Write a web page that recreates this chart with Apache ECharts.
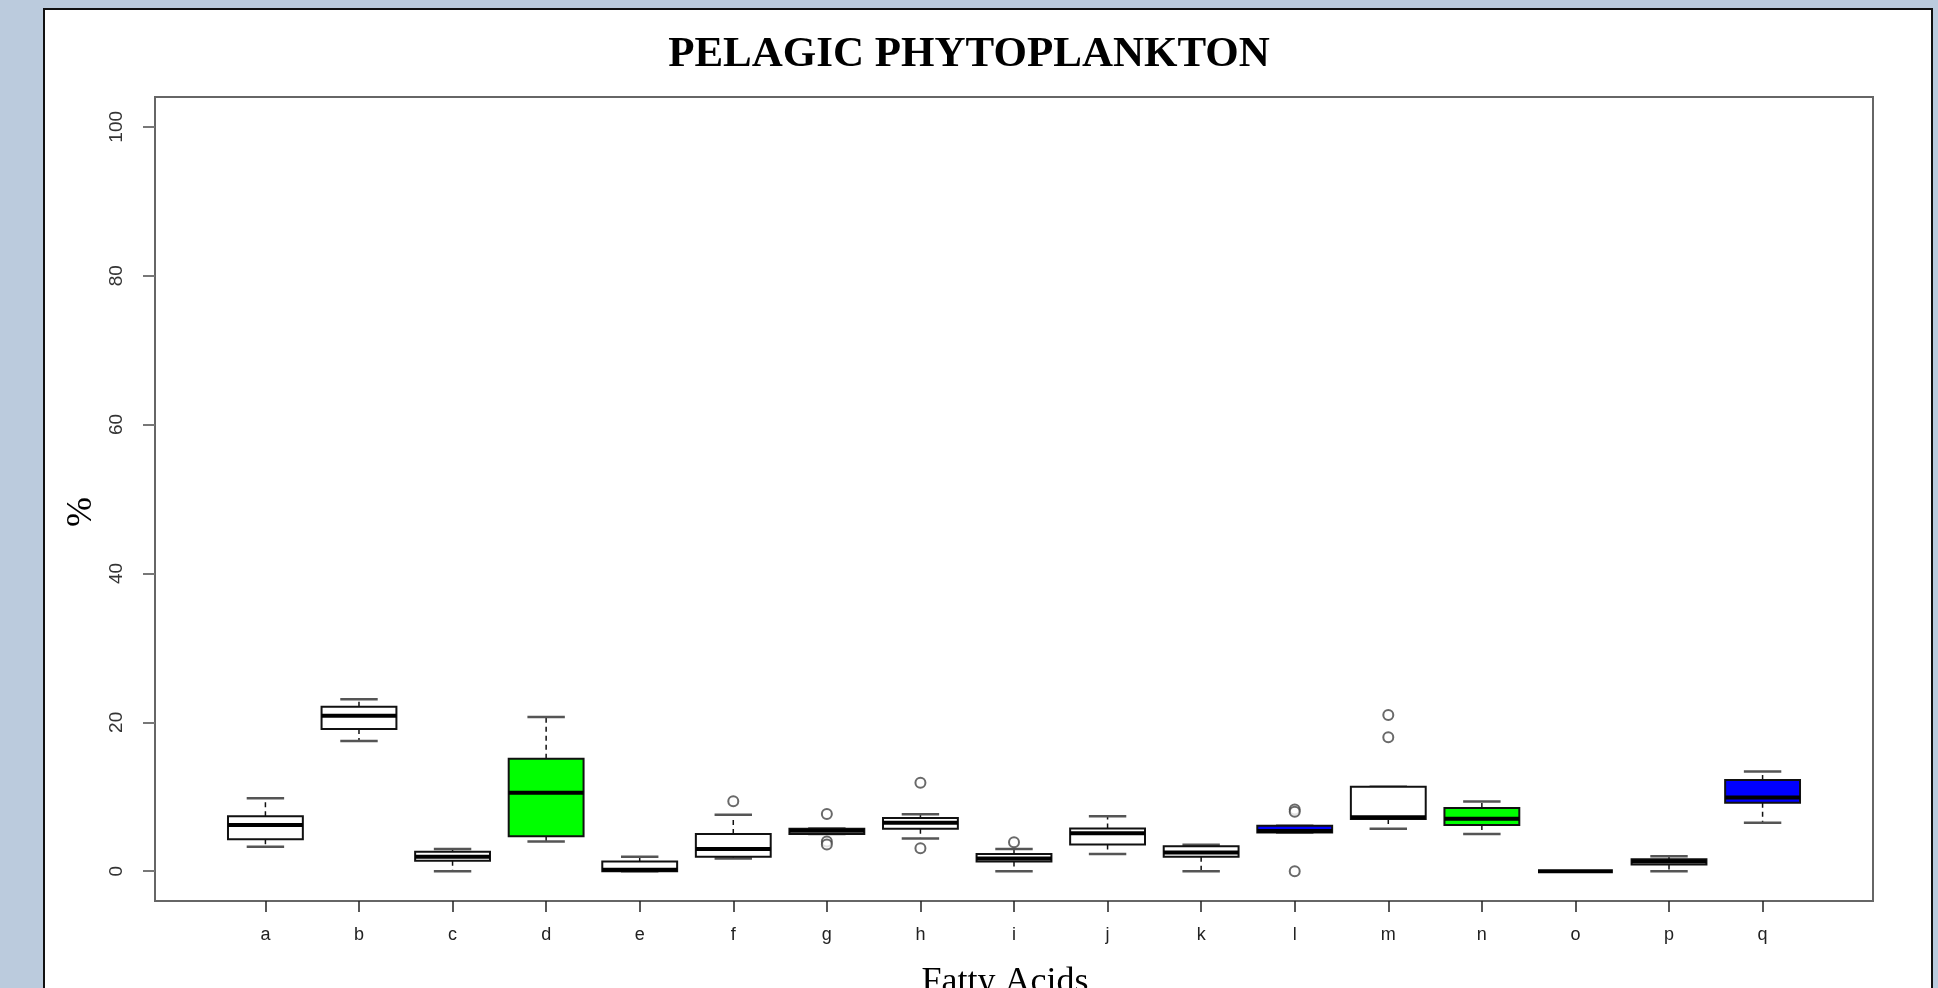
<!DOCTYPE html>
<html>
<head>
<meta charset="utf-8">
<title>Pelagic phytoplankton</title>
<script src="https://cdn.jsdelivr.net/npm/echarts@6/dist/echarts.min.js"></script>
<style>
    body {
        margin: 0;
        background-color: #bbcbdd;
        overflow: hidden;
    }
    .panel {
        position: absolute;
        left: 43px;
        top: 8px;
        width: 1890px;
        height: 1100px;
        box-sizing: border-box;
        border: 2px solid #111;
        background-color: white;
    }
    #boxChart {
        position: absolute;
        left: 0;
        top: 0;
        width: 1938px;
        height: 988px;
    }
</style>
</head>
<body>
<div class="panel"></div>
<div id="boxChart"></div>
<script>
// fatty acid labels
var categories = ['a', 'b', 'c', 'd', 'e', 'f', 'g', 'h', 'i', 'j', 'k', 'l', 'm', 'n', 'o', 'p', 'q'];
// box stats (%)
var whiskerLow  = [3.3, 17.5, 0.0, 4.0, 0.0, 1.7, 5.0, 4.4, 0.0, 2.3, 0.0, 5.2, 5.7, 5.0, 0.0, 0.0, 6.5];
var q1          = [4.3, 19.1, 1.4, 4.7, 0.0, 1.95, 5.0, 5.7, 1.3, 3.6, 1.95, 5.2, 7.0, 6.2, 0.0, 0.9, 9.2];
var median      = [6.2, 20.9, 1.95, 10.55, 0.2, 3.0, 5.45, 6.5, 1.7, 5.1, 2.5, 5.4, 7.25, 7.05, 0.0, 1.3, 9.9];
var q3          = [7.4, 22.1, 2.6, 15.1, 1.3, 5.0, 5.7, 7.15, 2.3, 5.75, 3.35, 6.1, 11.35, 8.5, 0.0, 1.6, 12.25];
var whiskerHigh = [9.8, 23.1, 3.0, 20.7, 1.95, 7.6, 5.75, 7.65, 3.0, 7.4, 3.55, 6.1, 11.35, 9.35, 0.0, 2.0, 13.4];
// outliers: category letter and value
var outlierCat = ['f', 'g', 'g', 'g', 'h', 'h', 'i', 'l', 'l', 'l', 'm', 'm'];
var outlierVal = [9.4, 7.7, 4.0, 3.6, 11.9, 3.1, 3.9, 8.3, 8.0, 0.0, 21.0, 18.0];
// y axis ticks
var yTicks = [0, 20, 40, 60, 80, 100];

// box fill colours (style, kept apart from the data)
var boxFill = ['#fff', '#fff', '#fff', '#00ff00', '#fff', '#fff', '#fff', '#fff', '#fff',
    '#fff', '#fff', '#0000ff', '#fff', '#00ff00', '#fff', '#fff', '#0000ff'];

var boxData = categories.map(function (c, i) {
    return [i + 1, whiskerLow[i], q1[i], median[i], q3[i], whiskerHigh[i]];
});
var outlierData = outlierCat.map(function (c, i) {
    return [categories.indexOf(c) + 1, outlierVal[i]];
});
var xTicks = categories.map(function (c, i) { return i + 1; });

function renderBox(params, api) {
    var x = api.value(0);
    var half = api.size([0.8, 0])[0] / 2;
    var capHalf = half / 2;
    var lo = api.coord([x, api.value(1)]);
    var bq1 = api.coord([x, api.value(2)]);
    var med = api.coord([x, api.value(3)]);
    var bq3 = api.coord([x, api.value(4)]);
    var hi = api.coord([x, api.value(5)]);
    var cx = med[0];
    var dash = { stroke: '#111', lineWidth: 1.5, lineDash: [5, 4] };
    var cap = { stroke: '#555', lineWidth: 2.5 };
    var children = [];
    if (hi[1] < bq3[1] - 1) {
        children.push({ type: 'line', shape: { x1: cx, y1: bq3[1], x2: cx, y2: hi[1] }, style: dash });
    }
    if (lo[1] > bq1[1] + 1) {
        children.push({ type: 'line', shape: { x1: cx, y1: bq1[1], x2: cx, y2: lo[1] }, style: dash });
    }
    children.push({ type: 'line', shape: { x1: cx - capHalf, y1: hi[1], x2: cx + capHalf, y2: hi[1] }, style: cap });
    children.push({ type: 'line', shape: { x1: cx - capHalf, y1: lo[1], x2: cx + capHalf, y2: lo[1] }, style: cap });
    if (bq1[1] - bq3[1] > 0.5) {
        children.push({
            type: 'rect',
            shape: { x: cx - half, y: bq3[1], width: half * 2, height: bq1[1] - bq3[1] },
            style: { fill: boxFill[params.dataIndex], stroke: '#111', lineWidth: 2 }
        });
    }
    children.push({
        type: 'line',
        shape: { x1: cx - half, y1: med[1], x2: cx + half, y2: med[1] },
        style: { stroke: '#000', lineWidth: 4 }
    });
    return { type: 'group', children: children };
}

var boxChart = echarts.init(document.getElementById('boxChart'));
var option = {
    animation: false,
    backgroundColor: 'transparent',
    title: {
        text: 'PELAGIC PHYTOPLANKTON',
        left: 'center',
        top: 28,
        textStyle: {
            fontFamily: 'Liberation Serif',
            fontWeight: 'bold',
            fontSize: 43,
            color: '#000'
        }
    },
    grid: {
        left: 155,
        top: 97,
        width: 1718,
        height: 804,
        outerBoundsMode: 'none',
        show: true,
        borderColor: '#666',
        borderWidth: 2,
        backgroundColor: 'transparent'
    },
    xAxis: {
        type: 'value',
        min: -0.18,
        max: 18.18,
        name: 'Fatty Acids',
        nameLocation: 'middle',
        nameGap: 64,
        nameTextStyle: {
            fontFamily: 'Liberation Serif',
            fontSize: 36,
            color: '#000',
            padding: [0, 18, 0, 0]
        },
        splitLine: { show: false },
        axisLine: { show: false, onZero: false },
        axisTick: {
            customValues: xTicks,
            length: 11,
            lineStyle: { color: '#222', width: 1.5 }
        },
        axisLabel: {
            customValues: xTicks,
            margin: 25,
            fontFamily: 'Liberation Sans',
            fontSize: 18,
            color: '#222',
            formatter: function (v) { return categories[v - 1]; }
        }
    },
    yAxis: {
        type: 'value',
        min: -4,
        max: 104,
        name: '%',
        nameLocation: 'middle',
        nameGap: 53,
        nameTextStyle: {
            fontFamily: 'Liberation Serif',
            fontSize: 36,
            color: '#000',
            padding: [0, 26, 0, 0]
        },
        splitLine: { show: false },
        axisLine: { show: false, onZero: false },
        axisTick: {
            customValues: yTicks,
            length: 12,
            lineStyle: { color: '#777', width: 2 }
        },
        axisLabel: {
            customValues: yTicks,
            rotate: 90,
            margin: 29,
            fontFamily: 'Liberation Sans',
            fontSize: 19,
            color: '#333'
        }
    },
    series: [
        {
            name: 'box',
            type: 'custom',
            renderItem: renderBox,
            encode: { x: 0, y: [1, 2, 3, 4, 5] },
            data: boxData,
            z: 2
        },
        {
            name: 'outliers',
            type: 'scatter',
            symbol: 'emptyCircle',
            symbolSize: 10,
            itemStyle: { color: '#444', borderColor: '#444', borderWidth: 1.5 },
            data: outlierData,
            z: 3
        }
    ]
};
boxChart.setOption(option);
</script>
</body>
</html>
